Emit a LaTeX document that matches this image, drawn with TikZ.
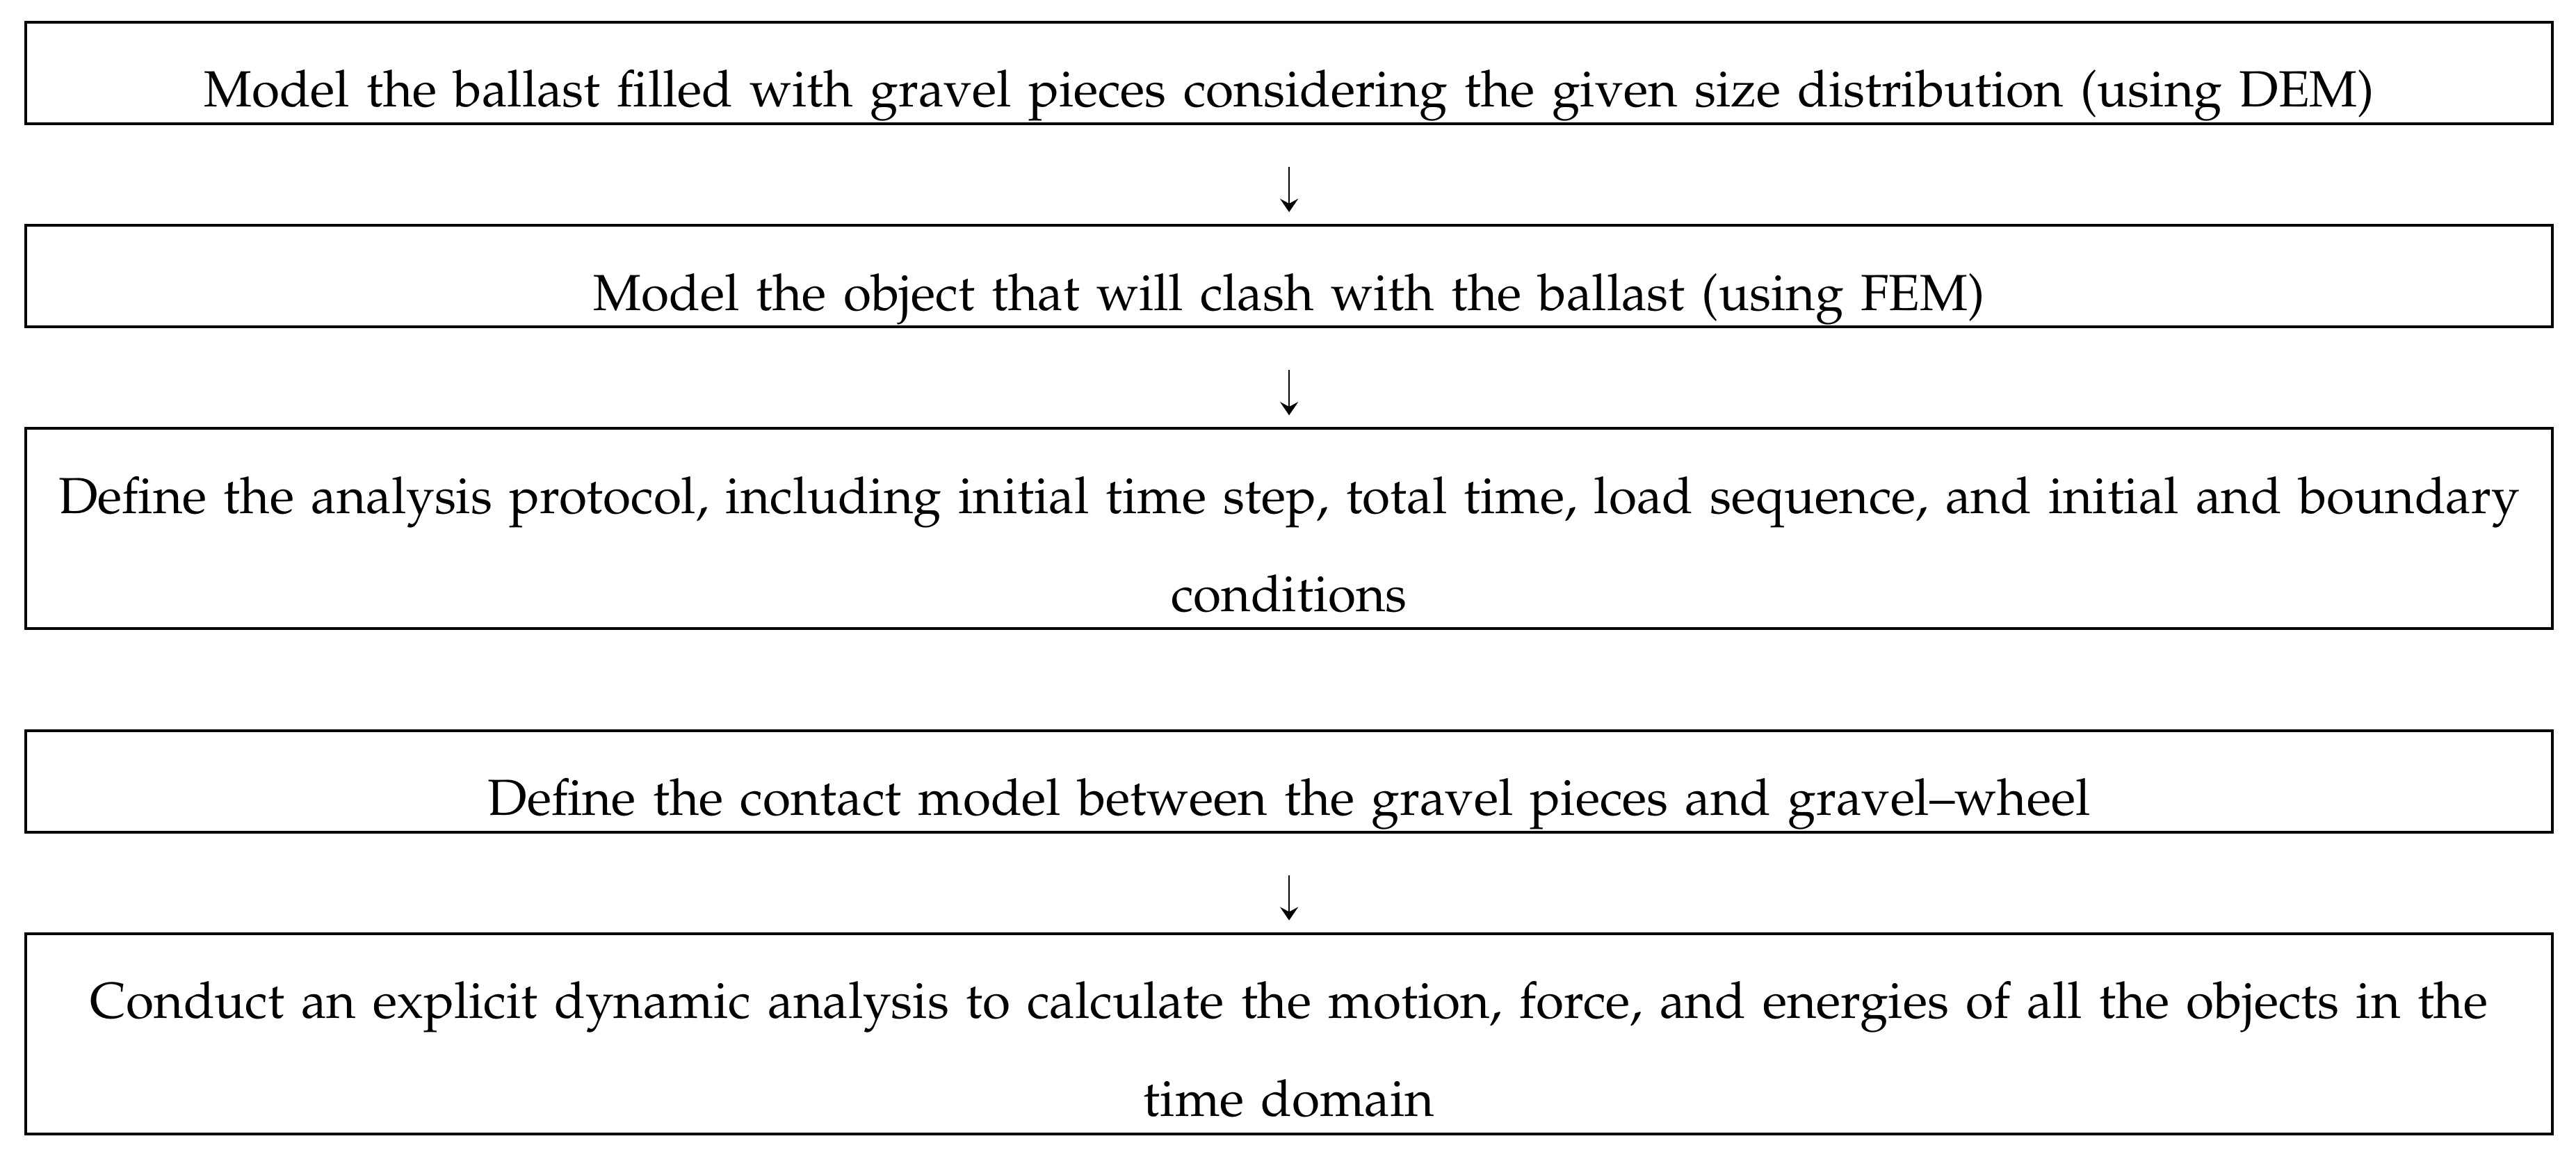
\documentclass[tikz,border=0pt]{standalone}
\usepackage[T1]{fontenc}
\usepackage{mathpazo}
\usepackage{tikz}
\usetikzlibrary{arrows.meta, positioning}

\tikzset{
	procbox/.style={draw=black, line width=0.52pt, inner sep=0pt, outer sep=0pt,
		text width=474.6pt, align=center, text height=15.93pt, text depth=3.13pt,
		font={\fontsize{9.54pt}{18.41pt}\selectfont}},
	procboxtwo/.style={procbox, text depth=21.68pt},
	flowarrow/.style={-{Stealth[length=2.5pt, width=3.4pt, inset=0.9pt]}, line width=0.35pt,
		shorten <=8.1pt, shorten >=2.5pt}
}

\begin{document}
\begin{tikzpicture}
			\useasboundingbox (0,0) rectangle (483.85pt,-216pt);

			% Process steps
			\node[procbox, anchor=north west] (ballast) at (4.83pt,-4.18pt) {Model the ballast filled with gravel pieces considering the given size distribution (using DEM)};
			\node[procbox, below=19.1pt of ballast] (object) {Model the object that will clash with the ballast (using FEM)};
			\node[procboxtwo, below=19.1pt of object] (protocol) {Define the analysis protocol, including initial time step, total time, load sequence, and initial and boundary\\conditions};
			\node[procbox, below=19.1pt of protocol] (contact) {Define the contact model between the gravel pieces and gravel--wheel};
			\node[procboxtwo, below=19.1pt of contact] (analysis) {Conduct an explicit dynamic analysis to calculate the motion, force, and energies of all the objects in the\\time domain};

			% Arrows between the steps
			\foreach \from/\to in {ballast/object, object/protocol, contact/analysis}
				\draw[flowarrow] (\from.south) -- (\to.north);

		\end{tikzpicture}
\end{document}
